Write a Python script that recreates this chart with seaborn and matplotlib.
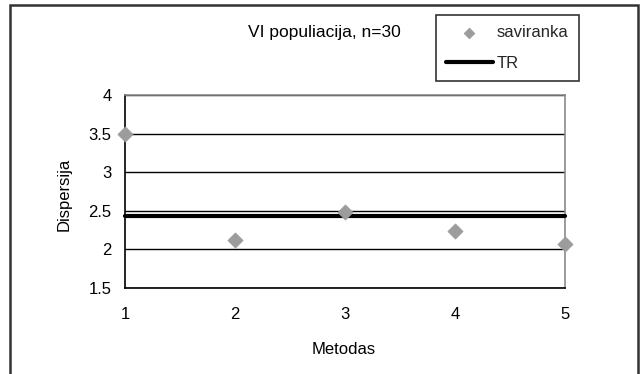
import matplotlib
matplotlib.use("Agg")
import matplotlib.pyplot as plt
import seaborn as sns
import pandas as pd
from matplotlib.patches import Rectangle

# Data
metodas = [1, 2, 3, 4, 5]
saviranka = [3.5, 2.12, 2.48, 2.24, 2.07]
tr_value = 2.43
y_ticks = [1.5, 2, 2.5, 3, 3.5, 4]
y_tick_labels = ["1.5", "2", "2.5", "3", "3.5", "4"]
x_ticks = [1, 2, 3, 4, 5]

df_pts = pd.DataFrame({"Metodas": metodas, "Dispersija": saviranka})
df_tr = pd.DataFrame({"Metodas": [metodas[0], metodas[-1]],
                      "Dispersija": [tr_value, tr_value]})

sns.set_theme(style="white")
plt.rcParams["font.family"] = ["Liberation Sans", "DejaVu Sans"]
FS = 12

W, H = 644, 374
fig = plt.figure(figsize=(W / 100, H / 100), dpi=100)
fig.patch.set_facecolor("white")

# plot area in pixel coords
left, right, top, bottom = 125, 565, 95, 288
ax = fig.add_axes([left / W, 1 - bottom / H, (right - left) / W, (bottom - top) / H])
ax.set_facecolor("white")

sns.lineplot(data=df_tr, x="Metodas", y="Dispersija", ax=ax, color="black",
             linewidth=3, label="TR", zorder=3)
sns.scatterplot(data=df_pts, x="Metodas", y="Dispersija", ax=ax, color="#9c9c9c",
                marker="D", s=60, edgecolor="#9c9c9c", linewidth=0.5,
                label="saviranka", zorder=4, clip_on=False)
for ln in ax.lines:
    ln.set_clip_on(False)

ax.set_xlim(1, 5)
ax.set_ylim(1.5, 4)
ax.set_xticks(x_ticks)
ax.set_yticks(y_ticks)
ax.set_xticklabels([str(v) for v in x_ticks])
ax.set_yticklabels(y_tick_labels)
ax.yaxis.grid(True, color="black", linewidth=1)
ax.set_axisbelow(True)

for side in ["left", "bottom"]:
    ax.spines[side].set_color("black")
    ax.spines[side].set_linewidth(1.2)
for side in ["top", "right"]:
    ax.spines[side].set_visible(True)
    ax.spines[side].set_color("#8a8a8a")
    ax.spines[side].set_linewidth(1.2)

ax.tick_params(axis="both", which="both", direction="inout", length=7.5, width=1,
               color="black", labelsize=FS, labelcolor="black")
ax.tick_params(axis="y", pad=6)
ax.tick_params(axis="x", pad=10)

ax.set_xlabel("Metodas", fontsize=FS, color="black", va="center")
ax.set_ylabel("Dispersija", fontsize=FS, color="black", va="center")
ax.xaxis.set_label_coords((344 - left) / (right - left), -(349 - bottom) / (bottom - top))
ax.yaxis.set_label_coords((64 - left) / (right - left), (bottom - 194) / (bottom - top))

fig.text(324 / W, 1 - 32 / H, "VI populiacija, n=30", fontsize=FS + 0.5,
         ha="center", va="center", color="black")

handles, labels = ax.get_legend_handles_labels()
order = [labels.index("saviranka"), labels.index("TR")]
leg = ax.legend([handles[i] for i in order], [labels[i] for i in order],
                loc="upper left", bbox_to_anchor=(436 / W, 1 - 15 / H),
                bbox_transform=fig.transFigure, frameon=True, fancybox=False,
                edgecolor="black", fontsize=FS, handlelength=2.8,
                borderpad=0.6, labelspacing=0.95, handletextpad=0.25,
                borderaxespad=0)
leg.get_frame().set_linewidth(1.2)
for h in leg.legend_handles:
    if hasattr(h, "set_sizes"):
        h.set_sizes([30])

# Outer chart border
fig.patches.append(Rectangle((10 / W, -0.02), (638 - 10) / W, 1 - 5 / H + 0.02,
                             transform=fig.transFigure, fill=False,
                             edgecolor="#333333", linewidth=1.8))

fig.savefig("out.png", dpi=100, facecolor="white")
